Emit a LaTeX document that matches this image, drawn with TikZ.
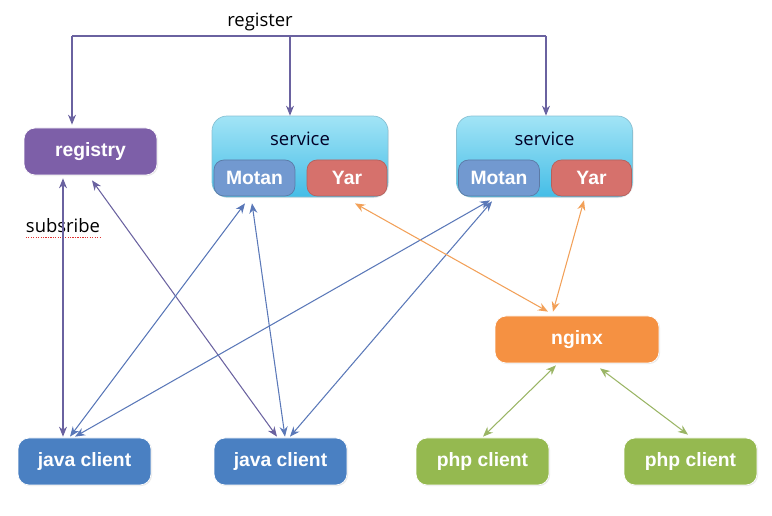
\documentclass[tikz,border=0pt]{standalone}
\usepackage{fontspec}
\setmainfont{Liberation Sans}
\newfontfamily\plainfont{Open Sans}
\usepackage{tikz}
\usepackage{xcolor}
\usetikzlibrary{arrows.meta, positioning, calc, shadows}
\definecolor{regPurple}{HTML}{7D5FA8}
\definecolor{svcTop}{HTML}{A2E4F6}
\definecolor{svcBot}{HTML}{45BDE6}
\definecolor{motanBlue}{HTML}{7299D0}
\definecolor{yarRed}{HTML}{D6716C}
\definecolor{nginxOrange}{HTML}{F59142}
\definecolor{javaBlue}{HTML}{4A80C2}
\definecolor{phpGreen}{HTML}{95B950}
\definecolor{busLine}{HTML}{6A62A0}
\definecolor{rpcLine}{HTML}{5A78B8}
\definecolor{httpLine}{HTML}{F2A058}
\definecolor{phpLine}{HTML}{9AB565}
\definecolor{spellRed}{HTML}{E03030}
\tikzset{
    box/.style={rectangle, rounded corners=2.2mm, draw=white, line width=0.4pt, text=white,
        font=\fontsize{11}{13}\selectfont\bfseries, minimum width=2.66cm, minimum height=0.94cm,
        text depth=0.5ex, drop shadow={opacity=0.18, shadow xshift=0.6pt, shadow yshift=-0.6pt}},
    svcBox/.style={rectangle, rounded corners=3mm, draw=svcBot!80!black!60, line width=0.4pt,
        top color=svcTop, bottom color=svcBot, minimum width=3.52cm, minimum height=1.62cm,
        drop shadow={opacity=0.15, shadow xshift=0.6pt, shadow yshift=-0.6pt}},
    subBox/.style={rectangle, rounded corners=2mm, text=white, font=\fontsize{11}{13}\selectfont\bfseries,
        minimum width=1.62cm, minimum height=0.72cm},
    plainText/.style={font=\plainfont\fontsize{10.5}{12}\selectfont},
    link/.style={<->, line width=0.6pt}
}

\begin{document}
\begin{tikzpicture}[x=0.02cm, y=-0.02cm, >={Stealth[length=2mm, width=1.6mm]}]
    \useasboundingbox (0,0) rectangle (772,516);
    \node[box, fill=regPurple] (Registry) at (90.5,151.5) {registry};
    \node[svcBox] (ServiceA) at (300,156.5) {};
    \node[svcBox] (ServiceB) at (544.5,156.5) {};
    \node[plainText, text=black!85!blue] (TitleA) at (300,139) {service};
    \node[plainText, text=black!85!blue] (TitleB) at (544.5,139) {service};
    \node[subBox, fill=motanBlue, draw=motanBlue!80!black] (MotanA) at (254.5,178) {Motan};
    \node[subBox, fill=yarRed, draw=yarRed!85!black, minimum width=1.6cm] (YarA) at (347,178) {Yar};
    \node[subBox, fill=motanBlue, draw=motanBlue!80!black] (MotanB) at (499,178) {Motan};
    \node[subBox, fill=yarRed, draw=yarRed!85!black, minimum width=1.6cm] (YarB) at (591.5,178) {Yar};
    \node[box, fill=nginxOrange, minimum width=3.28cm] (Nginx) at (577,339.5) {nginx};
    \node[box, fill=javaBlue] (JavaA) at (84.5,461.5) {java client};
    \node[box, fill=javaBlue] (JavaB) at (280.5,461.5) {java client};
    \node[box, fill=phpGreen] (PhpA) at (482.5,461.5) {php client};
    \node[box, fill=phpGreen] (PhpB) at (690.5,461.5) {php client};

    \coordinate (BusL) at (72,36);  \coordinate (BusM) at (290,36);  \coordinate (BusR) at (546,36);
    \draw[busLine, line width=0.8pt] (BusL)--(BusR);
    \draw[->, busLine, line width=0.8pt] (BusL)--($(BusL |- Registry.north)+(0,-3)$);
    \draw[->, busLine, line width=0.8pt] (BusM)--(BusM |- ServiceA.north);
    \draw[->, busLine, line width=0.8pt] (BusR)--(BusR |- ServiceB.north);
    \node[plainText] (RegisterLbl) at (260,22) {register};
    \node[plainText] (SubscribeLbl) at (63,226) {subsribe};
    \draw[spellRed, line width=0.7pt, dash pattern=on 0.7pt off 0.7pt]
        ($(SubscribeLbl.south west)+(6,-2)$)--($(SubscribeLbl.south east)+(-6,-2)$);

    \draw[link, busLine] ($(Registry.south)+(-27.5,3)$)--($(JavaA.north)+(-21.5,-1)$);
    \draw[link, busLine] ($(Registry.south)+(1.5,5)$)--($(JavaB.north)+(-3.5,-1)$);
    \draw[link, rpcLine] ($(MotanA.south)+(-9.5,7)$)--($(JavaA.north)+(-14.5,-1)$);
    \draw[link, rpcLine] ($(MotanA.south)+(-2.5,7)$)--($(JavaB.north)+(4.5,-1)$);
    \draw[link, rpcLine] ($(MotanB.south)+(-9,4)$)--($(JavaA.north)+(-9.5,-1)$);
    \draw[link, rpcLine] ($(MotanB.south)+(-7,5)$)--($(JavaB.north)+(9.5,-1)$);
    \draw[link, httpLine] ($(YarA.south)+(8,7)$)--($(Nginx.north)+(-29,-4)$);
    \draw[link, httpLine] ($(YarB.south)+(-7.5,4)$)--($(Nginx.north)+(-24,-4)$);
    \draw[link, phpLine] ($(Nginx.south)+(-21,2)$)--($(PhpA.north)+(0.5,-1)$);
    \draw[link, phpLine] ($(Nginx.south)+(23,5)$)--($(PhpB.north)+(-2.5,-3)$);
\end{tikzpicture}
\end{document}
